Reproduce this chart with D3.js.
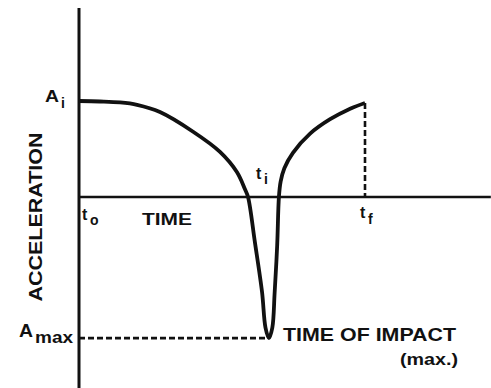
<!DOCTYPE html>
<html>
<head>
<meta charset="utf-8">
<script src="https://cdn.jsdelivr.net/npm/d3@7"></script>
<style>
  body { margin: 0; background: #fff; }
  text { font-family: "Liberation Sans", Arial, sans-serif; font-weight: bold; fill: #111; }
</style>
</head>
<body>
<svg id="chart" width="491" height="388"></svg>
<script>
// time (t_o = 0, t_f = 10) and acceleration (A_i = 1)
const times = [0, 0.73, 1.43, 2.03, 2.83, 3.99, 4.93, 5.52, 5.80, 5.91, 6.15, 6.40, 6.52, 6.64, 6.76, 6.84, 6.93, 6.99, 7.05, 7.18, 7.48, 8.08, 8.78, 9.48, 10];
const accel = [1.0, 0.995, 0.985, 0.96, 0.885, 0.68, 0.47, 0.26, 0.083, 0, -0.47, -0.99, -1.36, -1.47, -1.36, -1.0, -0.5, 0, 0.16, 0.3, 0.46, 0.66, 0.81, 0.92, 0.98];
const A_i = 1.0;
const A_max = -1.47;
const t_end = 10;
const timeAxisMax = 14.4;
const accelTop = 1.97, accelBottom = -2.0;

const svg = d3.select("#chart");

const x = d3.scaleLinear().domain([0, 10]).range([79, 365]);
const y = d3.scaleLinear().domain([0, 1]).range([197, 101]);

let data = times.map(function (t, i) { return { t: t, a: accel[i] }; });

// axes (no ticks)
svg.append("line")
    .attr("x1", x(0)).attr("x2", x(0))
    .attr("y1", y(accelTop)).attr("y2", y(accelBottom))
    .style("stroke", "#111").style("stroke-width", 3);
svg.append("line")
    .attr("x1", x(0)).attr("x2", x(timeAxisMax))
    .attr("y1", y(0)).attr("y2", y(0))
    .style("stroke", "#111").style("stroke-width", 2.5);

// dashed guides
svg.append("line")
    .attr("x1", x(t_end)).attr("x2", x(t_end))
    .attr("y1", y(data[data.length - 1].a)).attr("y2", y(0))
    .style("stroke", "#111").style("stroke-width", 2.6)
    .style("stroke-dasharray", "6,3");
svg.append("line")
    .attr("x1", x(0)).attr("x2", x(6.6))
    .attr("y1", y(A_max)).attr("y2", y(A_max))
    .style("stroke", "#111").style("stroke-width", 2.6)
    .style("stroke-dasharray", "6,3");

// curve
let line = d3.line()
    .x(function (d) { return x(d.t); })
    .y(function (d) { return y(d.a); })
    .curve(d3.curveCatmullRom.alpha(0.5));

svg.append("path")
    .datum(data)
    .attr("d", line)
    .attr("fill", "none")
    .style("stroke", "#111")
    .style("stroke-width", 3.8)
    .style("stroke-linejoin", "round");

// labels
function label(txt, px, py, size, len) {
    let t = svg.append("text").attr("x", px).attr("y", py)
        .style("font-size", size + "px").text(txt);
    if (len) t.attr("textLength", len).attr("lengthAdjust", "spacingAndGlyphs");
    return t;
}

label("A", x(0) - 34, y(A_i) + 1, 17, 14);
label("i", x(0) - 18, y(A_i) + 7, 14);

svg.append("text")
    .attr("transform", "translate(42,217) rotate(-90)")
    .attr("text-anchor", "middle")
    .attr("textLength", 169).attr("lengthAdjust", "spacingAndGlyphs")
    .style("font-size", "18px")
    .text("ACCELERATION");

label("t", x(0) + 3, y(0) + 23, 16);
label("o", x(0) + 11, y(0) + 28, 14);
label("TIME", 142, y(0) + 28, 17, 50);

label("t", 256, y(0) - 18, 16);
label("i", 264, y(0) - 13, 14);

label("t", x(t_end) - 5, y(0) + 21, 16);
label("f", x(t_end) + 3, y(0) + 27, 14);

label("A", 19, y(A_max) - 1, 19, 14);
label("max", 35, y(A_max) + 5, 16, 38);

label("TIME OF IMPACT", 283, 341, 19, 173);
label("(max.)", 400, 365, 16, 58);
</script>
</body>
</html>
